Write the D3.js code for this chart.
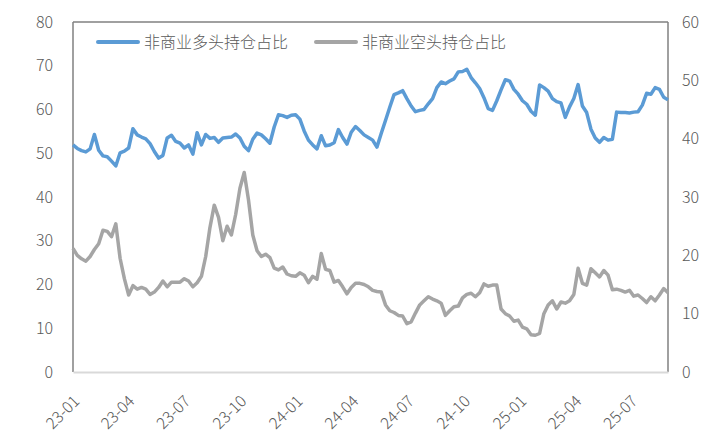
<!DOCTYPE html>
<html>
<head>
<meta charset="utf-8">
<script src="https://cdn.jsdelivr.net/npm/d3@7"></script>
<style>
  body { margin: 0; background: #fff; }
  text { font-family: "Noto Sans CJK SC", "Liberation Sans", sans-serif; font-weight: 300; fill: #595959; }
</style>
</head>
<body>
<svg id="chart" width="716" height="437"></svg>
<script>
// weekly data, first report date
const startDate = "2023-01-03";

// 非商业多头持仓占比 (left axis)
const longShare = [
  51.9, 51.1, 50.6, 50.3, 51.0, 54.3, 50.7, 49.4, 49.2, 48.2,
  47.1, 50.1, 50.5, 51.2, 55.6, 54.2, 53.7, 53.3, 52.2, 50.4,
  48.9, 49.5, 53.5, 54.1, 52.7, 52.3, 51.2, 51.9, 49.8, 54.7,
  51.9, 54.3, 53.4, 53.6, 52.5, 53.5, 53.6, 53.7, 54.4, 53.5,
  51.6, 50.6, 53.2, 54.6, 54.2, 53.3, 52.3, 56.0, 58.8, 58.6,
  58.2, 58.7, 58.8, 57.8, 55.1, 53.0, 51.9, 51.0, 54.0, 51.7,
  51.9, 52.4, 55.4, 53.6, 52.1, 54.8, 56.1, 55.2, 54.2, 53.6,
  53.0, 51.4, 54.5, 57.5, 60.5, 63.4, 63.8, 64.3, 62.5, 60.8,
  59.5, 59.8, 60.0, 61.3, 62.5, 65.0, 66.3, 65.9, 66.5, 67.0,
  68.6, 68.7, 69.2, 67.3, 66.1, 64.8, 62.7, 60.2, 59.8, 62.0,
  64.5, 66.8, 66.5, 64.6, 63.5, 62.0, 61.2, 59.6, 58.7, 65.6,
  65.0, 64.2, 62.5, 61.8, 61.5, 58.2, 60.6, 62.5, 65.7, 60.8,
  59.3, 55.5, 53.5, 52.5, 53.6, 53.0, 53.2, 59.4, 59.3, 59.3,
  59.2, 59.4, 59.5, 61.0, 63.7, 63.5, 65.0, 64.6, 62.8, 62.2
];

// 非商业空头持仓占比 (right axis)
const shortShare = [
  21.2, 20.0, 19.4, 19.0, 19.8, 21.0, 22.0, 24.3, 24.1, 23.2,
  25.4, 19.5, 16.0, 13.2, 14.8, 14.2, 14.5, 14.2, 13.3, 13.7,
  14.5, 15.6, 14.6, 15.4, 15.4, 15.4, 16.0, 15.6, 14.6, 15.3,
  16.4, 19.8, 24.8, 28.6, 26.5, 22.5, 25.0, 23.5, 27.0, 31.5,
  34.2, 29.5, 23.5, 20.8, 19.8, 20.2, 19.6, 17.8, 17.5, 18.0,
  16.8, 16.5, 16.4, 17.0, 16.6, 15.3, 16.4, 15.9, 20.3, 17.6,
  17.4, 15.4, 15.7, 14.6, 13.4, 14.5, 15.2, 15.2, 15.0, 14.6,
  14.0, 13.8, 13.7, 11.5, 10.5, 10.2, 9.7, 9.6, 8.3, 8.6,
  10.1, 11.5, 12.2, 12.9, 12.5, 12.2, 11.8, 9.7, 10.5, 11.2,
  11.3, 12.7, 13.3, 13.5, 12.9, 13.6, 15.1, 14.7, 14.9, 14.9,
  10.8, 10.0, 9.6, 8.7, 8.9, 7.7, 7.4, 6.4, 6.3, 6.6,
  10.0, 11.5, 12.2, 10.8, 12.0, 11.8, 12.2, 13.3, 17.8, 15.2,
  14.9, 17.7, 17.0, 16.3, 17.4, 16.6, 14.1, 14.2, 14.0, 13.7,
  14.0, 13.0, 13.2, 12.6, 11.9, 12.9, 12.2, 13.2, 14.3, 13.6
];

const leftTicks = [0, 10, 20, 30, 40, 50, 60, 70, 80];
const rightTicks = [0, 10, 20, 30, 40, 50, 60];
const xTickLabels = ["23-01", "23-04", "23-07", "23-10", "24-01", "24-04",
                     "24-07", "24-10", "25-01", "25-04", "25-07"];
const seriesNames = ["非商业多头持仓占比", "非商业空头持仓占比"];
const colors = ["#5b9bd5", "#a5a5a5"];

const margin = { left: 73, right: 48, top: 22, bottom: 65 };
const W = 716, H = 437;

const svg = d3.select("#chart");

const first = d3.timeParse("%Y-%m-%d")(startDate);
const dates = longShare.map((d, i) => d3.timeWeek.offset(first, i));

const x = d3.scaleTime()
  .domain([first, dates[dates.length - 1]])
  .range([margin.left, W - margin.right]);
const yL = d3.scaleLinear().domain([0, 80]).range([H - margin.bottom, margin.top]);
const yR = d3.scaleLinear().domain([0, 60]).range([H - margin.bottom, margin.top]);

// frame
svg.append("line")
  .attr("x1", margin.left).attr("x2", W - margin.right)
  .attr("y1", margin.top).attr("y2", margin.top)
  .attr("stroke", "#808080").attr("stroke-width", 1.5);
svg.append("line")
  .attr("x1", margin.left).attr("x2", margin.left)
  .attr("y1", margin.top).attr("y2", H - margin.bottom)
  .attr("stroke", "#808080").attr("stroke-width", 1.5);
svg.append("line")
  .attr("x1", W - margin.right).attr("x2", W - margin.right)
  .attr("y1", margin.top).attr("y2", H - margin.bottom)
  .attr("stroke", "#808080").attr("stroke-width", 1.5);

// axes
const axL = svg.append("g")
  .attr("transform", `translate(${margin.left},0)`)
  .call(d3.axisLeft(yL).tickValues(leftTicks).tickSize(0).tickPadding(20));
const axR = svg.append("g")
  .attr("transform", `translate(${W - margin.right},0)`)
  .call(d3.axisRight(yR).tickValues(rightTicks).tickSize(0).tickPadding(14));
[axL, axR].forEach(g => {
  g.select(".domain").remove();
  g.selectAll("text").style("font-size", "16px").attr("fill", "#595959");
});

const parseMonth = d3.timeParse("%y-%m");
const xTicks = xTickLabels.map(l => d3.timeDay.offset(parseMonth(l), first.getDate() - 1));
const axB = svg.append("g")
  .attr("transform", `translate(0,${H - margin.bottom})`)
  .call(d3.axisBottom(x).tickValues(xTicks).tickSize(0)
    .tickFormat((d, i) => xTickLabels[i]));
axB.select(".domain").attr("stroke", "#d9d9d9").attr("stroke-width", 2);
axB.selectAll("text")
  .style("font-size", "16px")
  .attr("fill", "#595959")
  .attr("text-anchor", "end")
  .attr("dy", "0")
  .attr("transform", "translate(5,28) rotate(-45)");

// lines
const lineL = d3.line().x((d, i) => x(dates[i])).y(d => yL(d));
const lineR = d3.line().x((d, i) => x(dates[i])).y(d => yR(d));

svg.append("path").datum(shortShare)
  .attr("d", lineR).attr("fill", "none")
  .attr("stroke", colors[1]).attr("stroke-width", 3.5)
  .attr("stroke-linejoin", "round");
svg.append("path").datum(longShare)
  .attr("d", lineL).attr("fill", "none")
  .attr("stroke", colors[0]).attr("stroke-width", 3.5)
  .attr("stroke-linejoin", "round");

// legend
const legendX = [98, 316];
seriesNames.forEach((name, i) => {
  const g = svg.append("g").attr("transform", `translate(${legendX[i]},42)`);
  g.append("line").attr("x1", 0).attr("x2", 40).attr("y1", 0).attr("y2", 0)
    .attr("stroke", colors[i]).attr("stroke-width", 4).attr("stroke-linecap", "round");
  g.append("text").attr("x", 46).attr("y", 0).attr("dy", "0.35em")
    .style("font-size", "16px").text(name);
});
</script>
</body>
</html>
